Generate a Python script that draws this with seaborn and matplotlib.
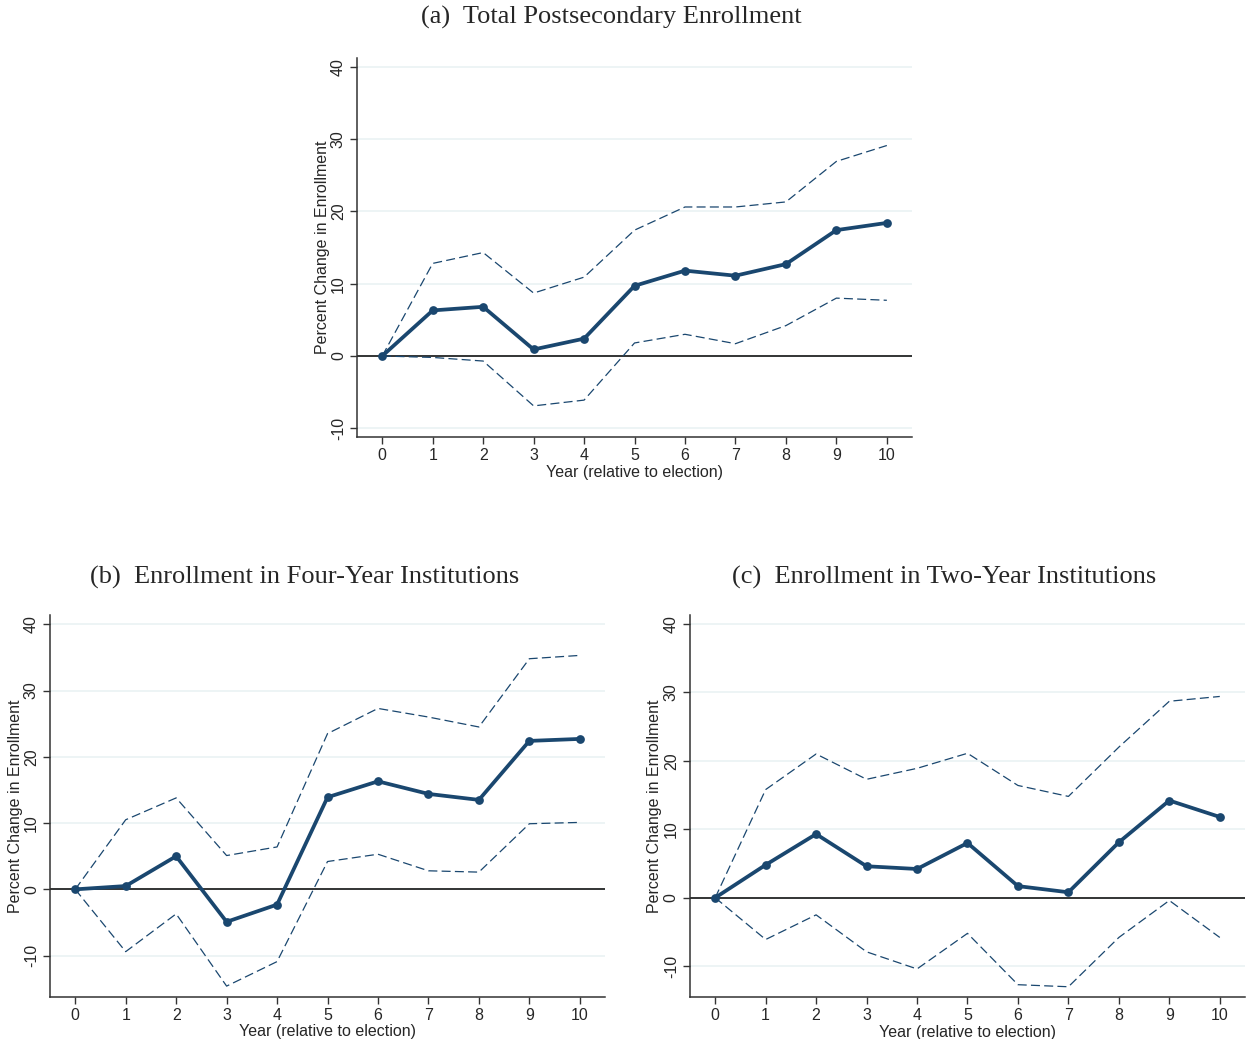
import matplotlib
matplotlib.use("Agg")
import matplotlib.pyplot as plt
import pandas as pd
import seaborn as sns

years = list(range(11))

total_est = [0, 6.3, 6.8, 0.9, 2.4, 9.7, 11.8, 11.1, 12.7, 17.4, 18.4]
total_hi = [0, 12.8, 14.3, 8.7, 10.9, 17.4, 20.6, 20.6, 21.3, 26.9, 29.1]
total_lo = [0, -0.2, -0.7, -6.9, -6.1, 1.8, 3.0, 1.7, 4.2, 8.0, 7.7]

four_est = [0, 0.5, 5.0, -4.9, -2.3, 13.9, 16.3, 14.4, 13.5, 22.4, 22.7]
four_hi = [0, 10.5, 13.8, 5.1, 6.4, 23.5, 27.3, 26.0, 24.5, 34.8, 35.3]
four_lo = [0, -9.4, -3.7, -14.6, -10.9, 4.2, 5.3, 2.8, 2.6, 9.9, 10.1]

two_est = [0, 4.8, 9.3, 4.6, 4.2, 8.0, 1.7, 0.8, 8.1, 14.2, 11.8]
two_hi = [0, 15.8, 21.0, 17.3, 18.9, 21.1, 16.4, 14.8, 22.0, 28.7, 29.4]
two_lo = [0, -6.1, -2.5, -7.9, -10.4, -5.2, -12.7, -13.0, -5.8, -0.4, -5.8]

titles = ["(a)  Total Postsecondary Enrollment",
          "(b)  Enrollment in Four-Year Institutions",
          "(c)  Enrollment in Two-Year Institutions"]
y_ticks = [-10, 0, 10, 20, 30, 40]

sns.set_style("white")
plt.rcParams["font.family"] = ["Liberation Sans", "DejaVu Sans"]

navy = "#1a476f"
grid_col = "#eaf2f3"

fig = plt.figure(figsize=(12.47, 10.39), dpi=100)
# axes boxes in figure fractions, plus title centre (x, y)
boxes = [[0.2863, 0.5794, 0.4451, 0.3648],
         [0.0401, 0.0407, 0.4451, 0.3674],
         [0.5533, 0.0404, 0.4451, 0.3677]]
title_pos = [(0.4900, 0.9830), (0.2442, 0.4440), (0.7574, 0.4440)]
ylims = [(-11.2, 41.2), (-16.2, 41.4), (-14.5, 41.3)]
panels = [(total_est, total_hi, total_lo),
          (four_est, four_hi, four_lo),
          (two_est, two_hi, two_lo)]

for box, ylim, title, tpos, (est, hi, lo) in zip(boxes, ylims, titles,
                                                  title_pos, panels):
    ax = fig.add_axes(box)
    df = pd.DataFrame({"year": years, "est": est, "hi": hi, "lo": lo})
    for y0 in y_ticks:
        ax.axhline(y0, color=grid_col, lw=1.2, zorder=0)
    ax.axhline(0, color="black", lw=1.1, zorder=1)
    sns.lineplot(data=df, x="year", y="hi", ax=ax, color=navy, lw=0.9,
                 linestyle=(0, (7.2, 3.4)), zorder=2)
    sns.lineplot(data=df, x="year", y="lo", ax=ax, color=navy, lw=0.9,
                 linestyle=(0, (7.2, 3.4)), zorder=2)
    sns.lineplot(data=df, x="year", y="est", ax=ax, color=navy, lw=2.7,
                 marker="o", markersize=6.3, markeredgewidth=0, zorder=3)
    ax.set_xlim(-0.5, 10.5)
    ax.set_ylim(*ylim)
    ax.set_xticks(years)
    ax.set_yticks(y_ticks)
    ax.set_yticklabels([str(v) for v in y_ticks], rotation=90, va="center")
    ax.tick_params(axis="both", direction="out", length=5, width=1,
                   color="#333333", labelsize=11.5, pad=3,
                   bottom=True, left=True)
    ax.set_xlabel("Year (relative to election)", fontsize=11.5, labelpad=1)
    ax.set_ylabel("Percent Change in Enrollment", fontsize=11.5, labelpad=1)
    for side in ["top", "right"]:
        ax.spines[side].set_visible(False)
    for side in ["left", "bottom"]:
        ax.spines[side].set_color("#333333")
        ax.spines[side].set_linewidth(1.1)
    fig.text(tpos[0], tpos[1], title, fontsize=19, family=["Liberation Serif"],
             ha="center", va="center")

fig.savefig("out.png", dpi=100)
